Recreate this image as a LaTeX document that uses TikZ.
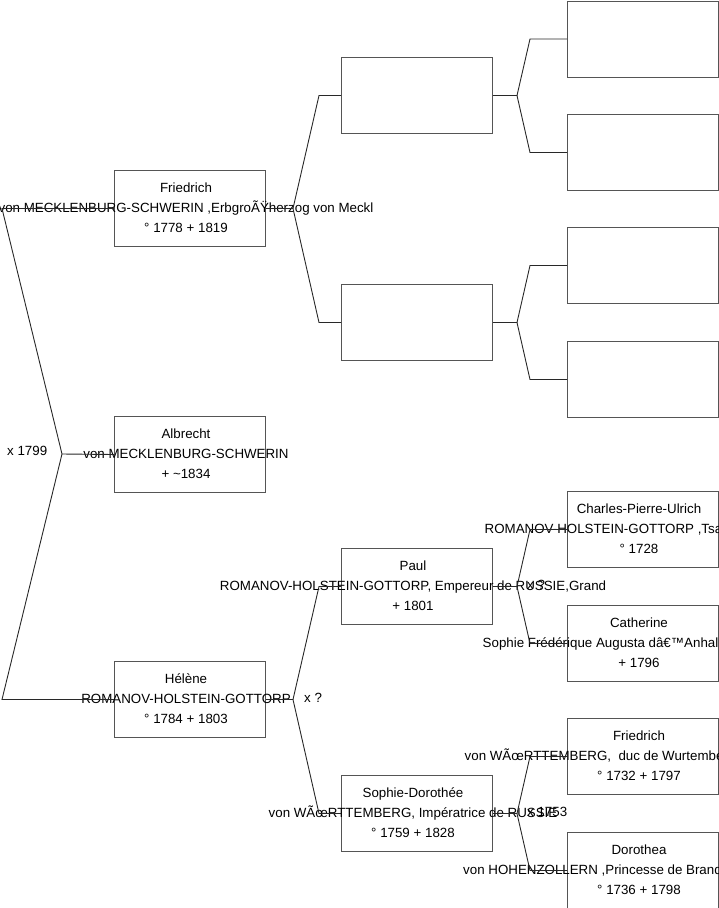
\documentclass[tikz,border=0pt]{standalone}
\usepackage{fontspec}
\setmainfont{Liberation Sans}
\definecolor{boxc}{RGB}{85,85,85}
\definecolor{conc}{RGB}{40,40,40}
\tikzset{
  box/.style={draw=boxc, fill=white, line width=1pt, minimum width=151pt, minimum height=76pt, inner sep=0pt, anchor=north west},
  txt/.style={inner sep=0pt, anchor=base, font=\fontsize{13.33}{20}\selectfont},
  txtl/.style={txt, anchor=base west},
  con/.style={draw=conc, line width=0.9pt},
}
\newcommand\boxtext[4]{%
  \node[txt] (#1l1) at ([xshift=-4pt,yshift=16.5pt]#1.center) {#2};
  \node[txt] (#1l2) at ([xshift=-4pt,yshift=-3.5pt]#1.center) {#3};
  \node[txt] (#1l3) at ([xshift=-4pt,yshift=-23.5pt]#1.center) {#4};}
\newcommand\boxtextcut[5]{%
  \node[txt] (#1l1) at ([xshift=-4pt,yshift=16.5pt]#1.center) {#2};
  \node[txtl] (#1l2) at ([xshift=#5,yshift=-3.5pt]#1.center) {#3};
  \node[txt] (#1l3) at ([xshift=-4pt,yshift=-23.5pt]#1.center) {#4};}
\newcommand\famlink[5]{%
  \draw[con] (#1.east) -- ++(#4,0) coordinate (#1v) -- ([xshift=-#5]#2.west) -- (#2.west);
  \draw[con] (#1v) -- ([xshift=-#5]#3.west) -- (#3.west);}
\begin{document}
\begin{tikzpicture}[x=1pt,y=-1pt]
\useasboundingbox (0,0) rectangle (719,908);
\clip (0,0) rectangle (719,908);
% boxes
\node[box] (F1) at (114,170) {};
\node[box] (A) at (114,416) {};
\node[box] (H) at (114,661) {};
\node[box] (G2a) at (341,57) {};
\node[box] (G2b) at (341,284) {};
\node[box] (G3a) at (567,0.5) {};
\node[box] (G3b) at (567,114) {};
\node[box] (G3c) at (567,227) {};
\node[box] (G3d) at (567,341) {};
\node[box] (P) at (341,548) {};
\node[box] (S) at (341,775) {};
\node[box] (C) at (567,491) {};
\node[box] (K) at (567,605) {};
\node[box] (W) at (567,718) {};
\node[box] (D) at (567,832) {};
% texts
\boxtext{F1}{Friedrich}{von MECKLENBURG-SCHWERIN ,ErbgroÃŸherzog von Meckl}{° 1778 + 1819}
\boxtext{A}{Albrecht}{von MECKLENBURG-SCHWERIN}{+ \textasciitilde1834}
\boxtext{H}{Hélène}{ROMANOV-HOLSTEIN-GOTTORP}{° 1784 + 1803}
\boxtext{P}{Paul}{ROMANOV-HOLSTEIN-GOTTORP, Empereur de RUSSIE,Grand}{+ 1801}
\boxtext{S}{Sophie-Dorothée}{von WÃœRTTEMBERG, Impératrice de RUSSIE}{° 1759 + 1828}
\boxtextcut{C}{Charles-Pierre-Ulrich}{ROMANOV-HOLSTEIN-GOTTORP ,Tsa}{° 1728}{-158.5pt}
\boxtextcut{K}{Catherine}{Sophie Frédérique Augusta dâ€™Anhal}{+ 1796}{-160.5pt}
\boxtextcut{W}{Friedrich}{von WÃœRTTEMBERG,\ \ duc de Wurtembe}{° 1732 + 1797}{-178.5pt}
\boxtextcut{D}{Dorothea}{von HOHENZOLLERN ,Princesse de Brand}{° 1736 + 1798}{-180pt}
% marriage labels
\node[txtl] (m0) at (7,455) {x 1799};
\node[txtl] (m1) at (304,702) {x ?};
\node[txtl] (m2) at (527,589) {x ?};
\node[txtl] (m3) at (527,816) {x 1753};
% connectors
\coordinate (rootv) at (62,454);
\draw[con] (F1.west) -- ++(-112,0) -- (rootv);
\draw[con] (H.west) -- ++(-112,0) -- (rootv);
\draw[con] (A.west) -- (rootv);
\famlink{F1}{G2a}{G2b}{27}{22pt}
\famlink{H}{P}{S}{27}{22pt}
\famlink{G2a}{G3a}{G3b}{24}{37pt}
\famlink{G2b}{G3c}{G3d}{24}{37pt}
\famlink{P}{C}{K}{24}{37pt}
\famlink{S}{W}{D}{24}{37pt}
\end{tikzpicture}
\end{document}
